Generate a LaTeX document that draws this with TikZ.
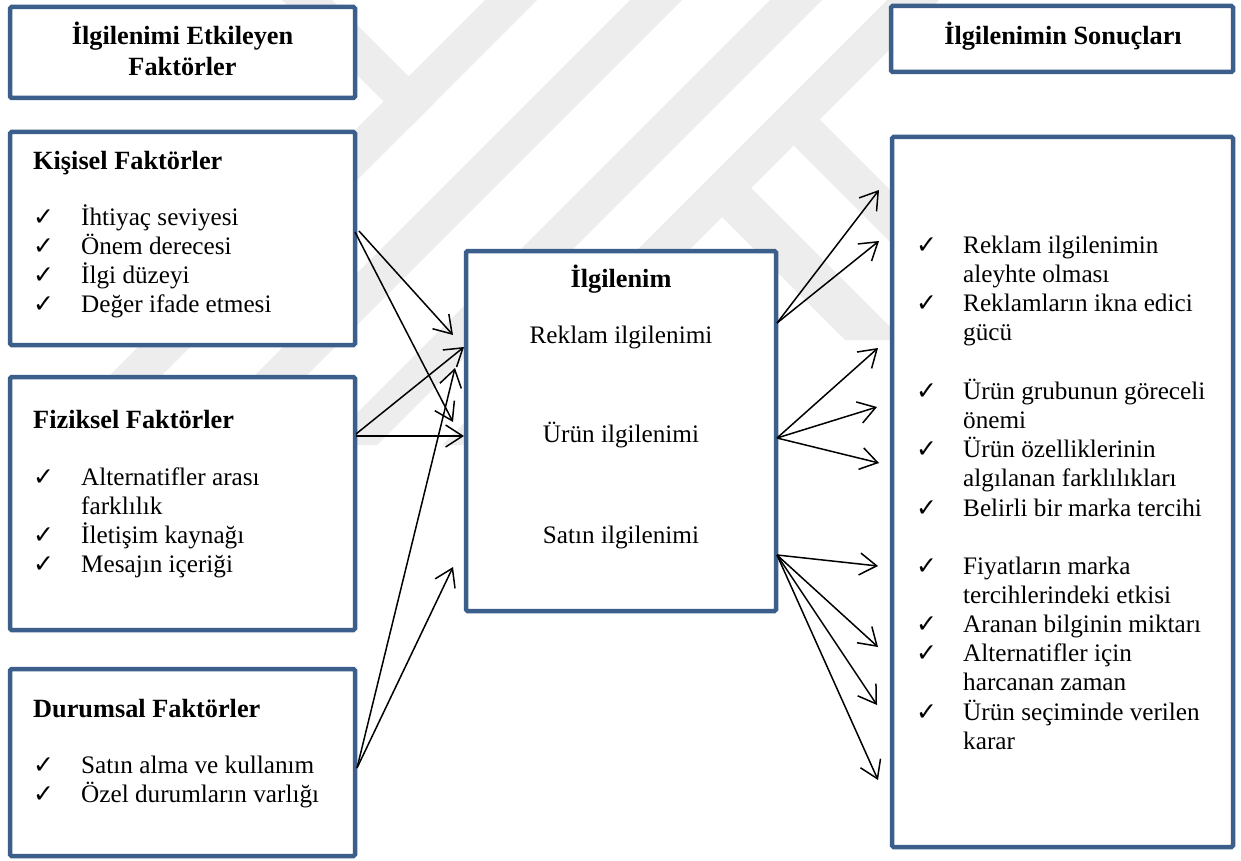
\documentclass[tikz,border=0pt]{standalone}
\usepackage{fontspec}
\setmainfont{Liberation Serif}
\newfontfamily\symfont{DejaVu Sans}
\usetikzlibrary{arrows.meta}
\definecolor{boxblue}{RGB}{59,94,139}
\definecolor{wmark}{RGB}{237,237,237}

\begin{document}
\begin{tikzpicture}[x=1pt,y=-1pt,
  frame/.style={draw=boxblue, line width=4.5pt, fill=white, rounded corners=1.5pt, inner sep=0pt, outer sep=0pt},
  lbl/.style={inner sep=0pt, anchor=base west, font=\fontsize{25.2}{29}\selectfont},
  ctr/.style={inner sep=0pt, anchor=base, font=\fontsize{25.2}{29}\selectfont},
  head/.style={inner sep=0pt, anchor=base, font=\fontsize{26.3}{30}\selectfont\bfseries},
  headl/.style={head, anchor=base west},
  tick/.style={inner sep=0pt, anchor=base west, font=\fontsize{25}{28}\symfont},
  link/.style={line width=1.5pt, -{Straight Barb[length=17pt,width=22pt,line width=1.5pt]}}
]
\useasboundingbox (0,0) rectangle (1241,861);
\fill[white] (0,0) rectangle (1241,861);

% faint background stripes
\begin{scope}
  \clip (0,0) -- (1241,0) -- (1241,340) -- (466,340) -- (466,445) -- (0,445) -- cycle;
  % rising bands
  \fill[wmark] (485,0) -- (537,0) -- (92,445) -- (40,445) -- cycle;
  \fill[wmark] (630,0) -- (682,0) -- (237,445) -- (185,445) -- cycle;
  \fill[wmark] (770,0) -- (822,0) -- (377,445) -- (325,445) -- cycle;
  \fill[wmark] (887,0) -- (939,0) -- (494,445) -- (442,445) -- cycle;
  % falling bands
  \fill[wmark] (282,0) -- (332,0) -- (434.5,102.5) -- (409.5,127.5) -- cycle;
  \fill[wmark] (722,217) -- (751,188) -- (903,340) -- (845,340) -- cycle;
  \fill[wmark] (793.5,145.5) -- (819.5,119.5) -- (1000,300) -- (948,300) -- cycle;
\end{scope}

% boxes
\node[frame, minimum width=345pt, minimum height=91pt]  (t1) at (182.5,52.5) {};
\node[frame, minimum width=345pt, minimum height=213pt] (kf) at (182.5,238.5) {};
\node[frame, minimum width=345pt, minimum height=253pt] (ff) at (182.5,503.5) {};
\node[frame, minimum width=345pt, minimum height=187pt] (df) at (182.5,762.5) {};
\node[frame, minimum width=310pt, minimum height=360pt] (mid) at (621,431) {};
\node[frame, minimum width=342pt, minimum height=66pt]  (t2) at (1062,39) {};
\node[frame, minimum width=341pt, minimum height=710pt] (res) at (1062.5,492) {};

% left heading
\node[head] (t1a) at (182.5,45) {İlgilenimi Etkileyen};
\node[head] (t1b) at (182.5,76) {Faktörler};

% personal factors
\node[headl] (kh) at (33,170) {Kişisel Faktörler};
\node[tick] (kc1) at (33,225.5) {✓}; \node[lbl] (kl1) at (81,225.5) {İhtiyaç seviyesi};
\node[tick] (kc2) at (33,254.5) {✓}; \node[lbl] (kl2) at (81,254.5) {Önem derecesi};
\node[tick] (kc3) at (33,283.5) {✓}; \node[lbl] (kl3) at (81,283.5) {İlgi düzeyi};
\node[tick] (kc4) at (33,312.5) {✓}; \node[lbl] (kl4) at (81,312.5) {Değer ifade etmesi};

% physical factors
\node[headl] (fh) at (33,428) {Fiziksel Faktörler};
\node[tick] (fc1) at (33,485) {✓}; \node[lbl] (fl1) at (81,485) {Alternatifler arası};
\node[lbl] (fl1b) at (81,514) {farklılık};
\node[tick] (fc2) at (33,543) {✓}; \node[lbl] (fl2) at (81,543) {İletişim kaynağı};
\node[tick] (fc3) at (33,572) {✓}; \node[lbl] (fl3) at (81,572) {Mesajın içeriği};

% situational factors
\node[headl] (dh) at (33,717) {Durumsal Faktörler};
\node[tick] (dc1) at (33,773) {✓}; \node[lbl] (dl1) at (81,773) {Satın alma ve kullanım};
\node[tick] (dc2) at (33,802) {✓}; \node[lbl] (dl2) at (81,802) {Özel durumların varlığı};

% involvement
\node[head] (mh) at (621,287) {İlgilenim};
\node[ctr] (m1) at (621,343) {Reklam ilgilenimi};
\node[ctr] (m2) at (621,442) {Ürün ilgilenimi};
\node[ctr] (m3) at (621,543) {Satın ilgilenimi};

% right heading
\node[head] (t2a) at (1063,45) {İlgilenimin Sonuçları};

% consequences
\node[tick] (rc1) at (916,253) {✓}; \node[lbl] (r1)  at (963,253) {Reklam ilgilenimin};
\node[lbl] (r1b) at (963,282) {aleyhte olması};
\node[tick] (rc2) at (916,311) {✓}; \node[lbl] (r2)  at (963,311) {Reklamların ikna edici};
\node[lbl] (r2b) at (963,340) {gücü};
\node[tick] (rc3) at (916,399) {✓}; \node[lbl] (r3)  at (963,399) {Ürün grubunun göreceli};
\node[lbl] (r3b) at (963,428) {önemi};
\node[tick] (rc4) at (916,457) {✓}; \node[lbl] (r4)  at (963,457) {Ürün özelliklerinin};
\node[lbl] (r4b) at (963,486) {algılanan farklılıkları};
\node[tick] (rc5) at (916,516) {✓}; \node[lbl] (r5)  at (963,516) {Belirli bir marka tercihi};
\node[tick] (rc6) at (916,574) {✓}; \node[lbl] (r6)  at (963,574) {Fiyatların marka};
\node[lbl] (r6b) at (963,603) {tercihlerindeki etkisi};
\node[tick] (rc7) at (916,632) {✓}; \node[lbl] (r7)  at (963,632) {Aranan bilginin miktarı};
\node[tick] (rc8) at (916,661) {✓}; \node[lbl] (r8)  at (963,661) {Alternatifler için};
\node[lbl] (r8b) at (963,690) {harcanan zaman};
\node[tick] (rc9) at (916,720) {✓}; \node[lbl] (r9)  at (963,720) {Ürün seçiminde verilen};
\node[lbl] (r9b) at (963,749) {karar};

% connector end points
\coordinate (kA) at (359,231);
\coordinate (kB) at (355,232);
\coordinate (fA) at (356,434);
\coordinate (fB) at (356,436);
\coordinate (dA) at (357,768);
\coordinate (mK1) at (453,335);
\coordinate (mK2) at (453,422);
\coordinate (mF1) at (464,347);
\coordinate (mF2) at (464,436);
\coordinate (mD1) at (455,368);
\coordinate (mD2) at (453,567);
\coordinate (oR) at (777,323);
\coordinate (oU) at (777,438);
\coordinate (oS) at (777,555);
\coordinate (e1) at (879,190);
\coordinate (e2) at (879,241);
\coordinate (e3) at (878,348);
\coordinate (e4) at (877,407);
\coordinate (e5) at (879,463);
\coordinate (e6) at (878,566);
\coordinate (e7) at (878,647);
\coordinate (e8) at (877,705);
\coordinate (e9) at (878,780);

% factors to involvement
\draw[link] (kA) -- (mK1);
\draw[link] (kB) -- (mK2);
\draw[link] (fA) -- (mF1);
\draw[link] (fB) -- (mF2);
\draw[link] (dA) -- (mD1);
\draw[link] (dA) -- (mD2);

% involvement to consequences
\draw[link] (oR) -- (e1);
\draw[link] (oR) -- (e2);
\draw[link] (oU) -- (e3);
\draw[link] (oU) -- (e4);
\draw[link] (oU) -- (e5);
\draw[link] (oS) -- (e6);
\draw[link] (oS) -- (e7);
\draw[link] (oS) -- (e8);
\draw[link] (oS) -- (e9);
\end{tikzpicture}
\end{document}
